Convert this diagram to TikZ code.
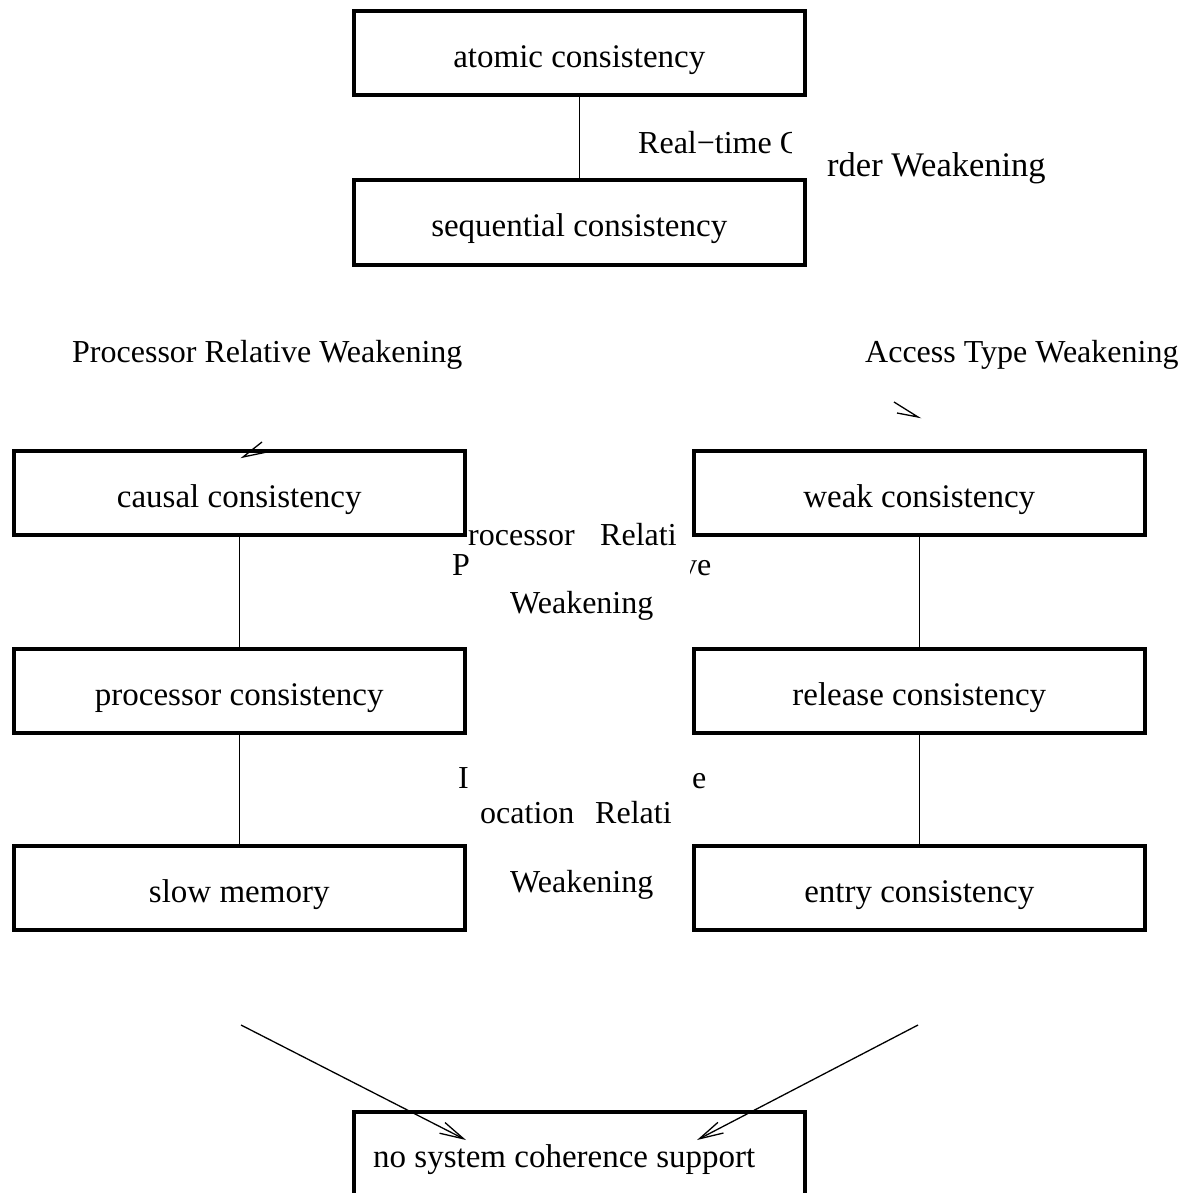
\documentclass[tikz,border=0pt]{standalone}
\usepackage{fontspec}
\setmainfont{Liberation Serif}
\usetikzlibrary{arrows.meta}
\begin{document}
\begin{tikzpicture}[x=1pt,y=-1pt,
  model/.style={draw, line width=4pt, minimum width=451.5pt, minimum height=84pt,
    inner sep=0pt, text height=32pt, text depth=4pt, font=\fontsize{33}{40}\selectfont},
  link/.style={line width=1.4pt},
  weakarrow/.style={line width=1.3pt, -{Straight Barb[length=24pt,width=12pt]}},
  lbl/.style={inner sep=0pt, anchor=base west, font=\fontsize{32}{38}\selectfont},
  barb/.style={line width=1.3pt, line join=miter}
]
\useasboundingbox (0,0) rectangle (1192,1193);

% consistency models
\node[model] (atomic)  at (579.25,53.5)   {atomic consistency};
\node[model] (seq)     at (579.25,222.5)  {sequential consistency};
\node[model] (causal)  at (239.25,493)    {causal consistency};
\node[model] (proc)    at (239.25,691)    {processor consistency};
\node[model] (slow)    at (239.25,888.25) {slow memory};
\node[model] (weakc)   at (919.25,493)    {weak consistency};
\node[model] (release) at (919.25,691)    {release consistency};
\node[model] (entry)   at (919.25,888.25) {entry consistency};
\node[model] (nosys)   at (579.25,1153.5) {no system coherence support\hspace*{30pt}};

% ordering links
\draw[link] (atomic) -- (seq);
\draw[link] (causal) -- (proc);
\draw[link] (proc) -- (slow);
\draw[link] (weakc) -- (release);
\draw[link] (release) -- (entry);

% weakening labels
\begin{scope}
  \clip (600,100) rectangle (791,200);
  \node[lbl] (rt1) at (638,154) {Real−time O};
\end{scope}
\node[lbl, font=\fontsize{34.5}{40}\selectfont] (rt2) at (827,177) {rder Weakening};
\node[lbl] (prw) at (72,362) {Processor Relative Weakening};
\node[lbl] (atw) at (865,362) {Access Type Weakening};

\node[lbl] (p1) at (452,575) {P};
\node[lbl] (p2) at (468,545) {rocessor};
\node[lbl] (p3) at (600,545) {Relati};
\begin{scope}
  \clip (690,540) rectangle (760,600);
  \node[lbl] (p4) at (681,575) {ve};
\end{scope}
\node[lbl] (p5) at (510,613) {Weakening};

\node[lbl] (l1) at (458,788) {I};
\node[lbl] (l2) at (692,788) {e};
\node[lbl] (l3) at (480,823) {ocation};
\node[lbl] (l4) at (595,823) {Relati};
\node[lbl] (l5) at (510,892) {Weakening};

% loose arrow heads
\coordinate (ha) at (243,457);
\draw[barb] (262,442) -- (ha) -- (267,452);
\coordinate (hb) at (918,417);
\draw[barb] (894,402) -- (hb) -- (897,413);

% arrows into the bottom model
\coordinate (ls) at (241,1025);
\coordinate (lt) at (466,1140);
\coordinate (rs) at (918,1025);
\coordinate (rt) at (697,1140);
\draw[weakarrow] (ls) -- (lt);
\draw[weakarrow] (rs) -- (rt);
\end{tikzpicture}
\end{document}
